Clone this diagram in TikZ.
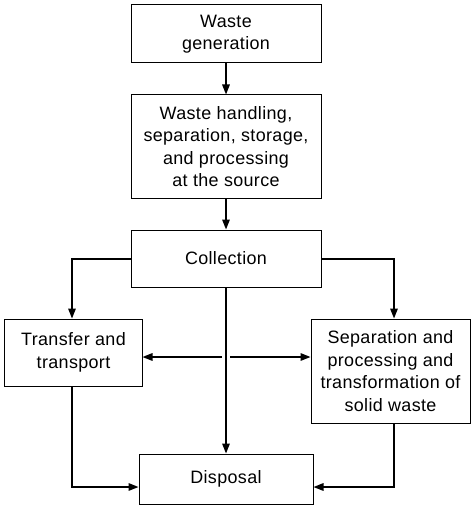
\documentclass[tikz,border=0pt]{standalone}
\usepackage{fontspec}
\setmainfont[LetterSpace=2]{Liberation Sans}
\usetikzlibrary{arrows.meta}
\begin{document}
\begin{tikzpicture}[x=1bp,y=-1bp,
  box/.style={draw=black,line width=1bp,fill=white,inner sep=0pt,align=center,
    font=\fontsize{18}{22.5}\selectfont},
  conn/.style={line width=1.5bp,-{Triangle[length=10bp,width=7.5bp]}},
  plain/.style={line width=1.5bp}]
\useasboundingbox (0,0) rectangle (471,516);
% boxes (positioned by corners)
\node[box,minimum width=190bp,minimum height=58bp] (gen) at (226,34) {Waste\\generation};
\node[box,minimum width=190bp,minimum height=103bp] (hand) at (226,146.5) {Waste handling,\\separation, storage,\\and processing\\at the source};
\node[box,minimum width=190bp,minimum height=57bp] (coll) at (226,258.5) {Collection};
\node[box,minimum width=137bp,minimum height=67bp] (trans) at (73.5,352.5) {Transfer and\\transport};
\node[box,minimum width=159bp,minimum height=104bp] (sep) at (390.5,371) {Separation and\\processing and\\transformation of\\solid waste};
\node[box,minimum width=174bp,minimum height=50bp] (disp) at (226,479) {Disposal};
% coordinates
\coordinate (cl) at (72,259);
\coordinate (cr) at (394,259);
\coordinate (mid) at (226,357);
\coordinate (tl) at (72,487);
\coordinate (sr) at (394,487);
% connectors
\draw[conn] (gen.south) -- (hand.north);
\draw[conn] (hand.south) -- (coll.north);
\draw[conn] (coll.west |- cl) -- (cl) -- (trans.north -| cl);
\draw[conn] (coll.east |- cr) -- (cr) -- (sep.north -| cr);
\draw[conn] (coll.south) -- (disp.north);
\draw[conn] ([xshift=-4bp]mid) -- (trans.east |- mid);
\draw[conn] ([xshift=4bp]mid) -- (sep.west |- mid);
\draw[conn] (trans.south -| tl) -- (tl) -- (disp.west |- tl);
\draw[conn] (sep.south -| sr) -- (sr) -- (disp.east |- sr);
\end{tikzpicture}
\end{document}
